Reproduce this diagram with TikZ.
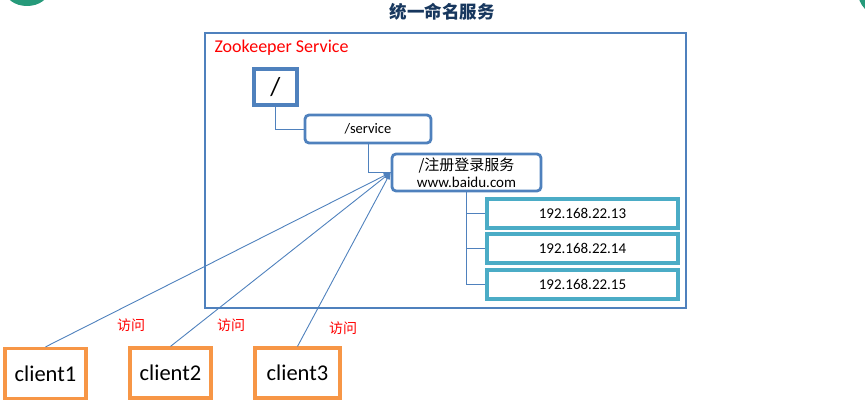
\documentclass[tikz,border=0pt]{standalone}
\usepackage{fontspec}
\setmainfont{Carlito}
\newfontfamily\cjk{Noto Sans CJK SC}
\usepackage{xcolor}
\usepackage{tikz}
\usetikzlibrary{arrows.meta,positioning}

\definecolor{azulMarco}{RGB}{79,129,189}
\definecolor{azulIP}{RGB}{75,172,198}
\definecolor{naranjaCli}{RGB}{247,150,70}
\definecolor{azulTitulo}{RGB}{23,55,94}
\definecolor{verdeEsq}{RGB}{38,154,122}

\begin{document}
\begin{tikzpicture}[x=1pt,y=-1pt,
  marco/.style={draw=azulMarco, line width=2.8pt},
  znodo/.style={draw=azulMarco, line width=2.8pt, rounded corners=4pt, font=\fontsize{14.5}{17}\selectfont, inner sep=1pt},
  ipnodo/.style={draw=azulIP, line width=3.2pt, minimum width=191pt, minimum height=29pt, font=\fontsize{15}{17}\selectfont},
  cliente/.style={draw=naranjaCli, line width=3.2pt, minimum height=50pt, font=\fontsize{22.5}{25}\selectfont},
  enlace/.style={draw=azulMarco, line width=0.9pt},
  acceso/.style={draw=azulMarco, line width=0.9pt, -{Triangle[length=7pt,width=5pt]}},
  etiqueta/.style={text=red, font=\cjk\fontsize{14}{16}\selectfont}]
\useasboundingbox (0,0) rectangle (865,403);
\clip (0,0) rectangle (865,403);

% Restos de las esquinas
\fill[verdeEsq] (27,-10) ellipse [x radius=22, y radius=16];
\fill[verdeEsq] (882,-8) circle [radius=24];

% Titulo
\node[font=\cjk\bfseries\fontsize{17.5}{20}\selectfont, text=azulTitulo] (titulo) at (442,12) {统一命名服务};

% Contenedor Zookeeper
\node[marco, minimum width=481pt, minimum height=275pt] (zk) at (445.5,170.5) {};
\node[anchor=west, text=red, font=\fontsize{18}{21}\selectfont] (zklabel) at (211,48) {Zookeeper Service};

% Arbol de nodos
\node[marco, line width=3.2pt, minimum width=43pt, minimum height=36pt, font=\fontsize{26}{28}\selectfont] (raiz) at (275.5,87) {/};
\node[znodo, minimum width=126pt, minimum height=28pt] (servicio) at (368,129) {/service};
\node[znodo, minimum width=149pt, minimum height=37pt, align=center, font=\fontsize{15}{17}\selectfont] (registro) at (466.5,172.5) {{\cjk /注册登录服务}\\www.baidu.com};

% Direcciones IP
\node[ipnodo] (ip1) at (582.5,213.5) {192.168.22.13};
\node[ipnodo] (ip2) at (582.5,248.5) {192.168.22.14};
\node[ipnodo] (ip3) at (582.5,284.5) {192.168.22.15};

% Conexiones del arbol
\draw[enlace] (raiz.south) |- (servicio.west);
\draw[enlace] (servicio.south) |- (registro.west);
\draw[enlace] (registro.south) |- (ip1.west);
\draw[enlace] (registro.south) |- (ip2.west);
\draw[enlace] (registro.south) |- (ip3.west);

% Clientes
\node[cliente, minimum width=81pt] (cli1) at (45.5,373.5) {client1};
\node[cliente, minimum width=81pt] (cli2) at (170.5,373) {client2};
\node[cliente, minimum width=85pt] (cli3) at (297.5,373) {client3};

% Accesos
\draw[acceso] (cli1.north) -- (registro.west);
\draw[acceso] (cli2.north) -- (registro.west);
\draw[acceso] (cli3.north) -- (registro.west);
\node[etiqueta] (acc1) at (131,325) {访问};
\node[etiqueta] (acc2) at (231,325) {访问};
\node[etiqueta] (acc3) at (343,328) {访问};
\end{tikzpicture}
\end{document}
